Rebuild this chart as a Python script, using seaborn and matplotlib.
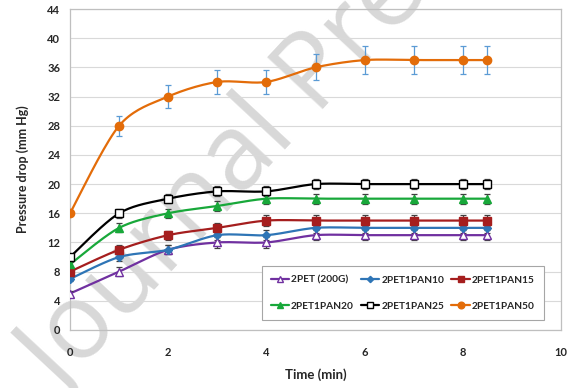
import numpy as np
import pandas as pd
import matplotlib
matplotlib.use("Agg")
import matplotlib.pyplot as plt
from matplotlib.lines import Line2D
import seaborn as sns

# ---- data ----
time_min = [0, 1, 2, 3, 4, 5, 6, 7, 8, 8.5]
series_names = ["2PET (200G)", "2PET1PAN10", "2PET1PAN15",
                "2PET1PAN20", "2PET1PAN25", "2PET1PAN50"]
pet_200g = [5, 8, 11, 12, 12, 13, 13, 13, 13, 13]
pan10 = [7, 10, 11, 13, 13, 14, 14, 14, 14, 14]
pan15 = [8, 11, 13, 14, 15, 15, 15, 15, 15, 15]
pan20 = [9, 14, 16, 17, 18, 18, 18, 18, 18, 18]
pan25 = [10, 16, 18, 19, 19, 20, 20, 20, 20, 20]
pan50 = [16, 28, 32, 34, 34, 36, 37, 37, 37, 37]
err_small = [0.3, 0.6, 0.6, 0.7, 0.7, 0.7, 0.7, 0.7, 0.7, 0.7]
err_pan50 = [0.3, 1.4, 1.6, 1.7, 1.7, 1.8, 1.9, 1.9, 1.9, 1.9]
x_ticks = [0, 2, 4, 6, 8, 10]
y_ticks = [0, 4, 8, 12, 16, 20, 24, 28, 32, 36, 40, 44]

values = [pet_200g, pan10, pan15, pan20, pan25, pan50]
errors = [err_small, err_small, err_small, err_small, err_small, err_pan50]

colors = ["#7030A0", "#2E75B6", "#A51E1E", "#18A83A", "#000000", "#E36C09"]
markers = ["^", "D", "s", "^", "s", "o"]
msizes = [6, 4, 6, 5.5, 6, 6]
mfaces = ["white", "#2E75B6", "#A51E1E", "#18A83A", "white", "#E36C09"]
ecolors = ["#404040"] * 5 + ["#5B9BD5"]

sns.set_theme(style="white")
plt.rcParams["font.family"] = ["Lato", "DejaVu Sans"]
plt.rcParams["font.weight"] = "bold"


def catmull_rom(x, y, n=20):
    x = np.asarray(x, float)
    y = np.asarray(y, float)
    px = np.concatenate([[x[0]], x, [x[-1]]])
    py = np.concatenate([[y[0]], y, [y[-1]]])
    xs, ys = [], []
    t = np.linspace(0, 1, n, endpoint=False)
    for i in range(1, len(px) - 2):
        p0, p1, p2, p3 = (np.array([px[j], py[j]]) for j in (i - 1, i, i + 1, i + 2))
        m1 = (p2 - p0) / 2 * 0.9
        m2 = (p3 - p1) / 2 * 0.9
        h00 = 2 * t**3 - 3 * t**2 + 1
        h10 = t**3 - 2 * t**2 + t
        h01 = -2 * t**3 + 3 * t**2
        h11 = t**3 - t**2
        pts = np.outer(h00, p1) + np.outer(h10, m1) + np.outer(h01, p2) + np.outer(h11, m2)
        xs.extend(pts[:, 0]); ys.extend(pts[:, 1])
    xs.append(x[-1]); ys.append(y[-1])
    return np.array(xs), np.array(ys)


fig = plt.figure(figsize=(5.76, 3.88), dpi=100)
ax = fig.add_axes([70 / 576, 1 - 330 / 388, 491 / 576, 321 / 388])
ax.patch.set_alpha(0)

# watermark (drawn beneath the axes)
fig.text(62 / 576, 1 - 398 / 388, "Journal Pre-proof", fontsize=76, color="#d8d8d8",
         rotation=47, ha="left", va="baseline", rotation_mode="anchor",
         fontweight="normal", family=["Open Sans", "DejaVu Sans"], zorder=-5)

for name, vals, err, c, m, ms, mf, ec in zip(series_names, values, errors, colors,
                                             markers, msizes, mfaces, ecolors):
    sx, sy = catmull_rom(time_min, vals)
    smooth = pd.DataFrame({"t": sx, "p": sy})
    sns.lineplot(data=smooth, x="t", y="p", ax=ax, color=c, lw=1.6,
                 sort=False, estimator=None, zorder=3)
    ax.errorbar(time_min, vals, yerr=err, fmt="none", ecolor=ec, elinewidth=0.9,
                capsize=2.5, capthick=0.9, zorder=4)
    pts = pd.DataFrame({"t": time_min, "p": vals})
    ax.plot(pts["t"], pts["p"], ls="none", marker=m, ms=ms, mfc=mf, mec=c,
            mew=1.0, zorder=5)

ax.set_xlim(0, 10)
ax.set_ylim(0, 44)
ax.set_xticks(x_ticks)
ax.set_yticks(y_ticks)
ax.set_xticklabels([str(v) for v in x_ticks], fontsize=8, fontweight="bold")
ax.set_yticklabels([str(v) for v in y_ticks], fontsize=8, fontweight="bold")
ax.tick_params(axis="x", length=0, pad=12)
ax.tick_params(axis="y", length=0, pad=7)
ax.yaxis.grid(True, color="#d9d9d9", lw=0.8)
ax.xaxis.grid(False)
for s in ax.spines.values():
    s.set_color("#bfbfbf")
    s.set_linewidth(0.9)
ax.set_xlabel("Time (min)", fontsize=9.5, fontweight="bold", labelpad=8)
ax.set_ylabel("Pressure drop (mm Hg)", fontsize=9, fontweight="bold", labelpad=13)

handles = [Line2D([0], [0], color=c, lw=1.6, marker=m, ms=ms * 0.8, mfc=mf, mec=c)
           for c, m, ms, mf in zip(colors, markers, msizes, mfaces)]
# reorder so that rows read across (matplotlib fills columns first)
order = [0, 3, 1, 4, 2, 5]
leg = ax.legend([handles[i] for i in order], [series_names[i] for i in order],
                ncol=3, loc="lower right", bbox_to_anchor=(0.975, 0.015),
                frameon=True, fancybox=False, handlelength=1.8,
                handletextpad=0.2, columnspacing=0.7, labelspacing=1.7,
                borderpad=0.9, prop={"weight": "bold", "size": 7.3})
leg.get_frame().set_edgecolor("#a6a6a6")
leg.get_frame().set_linewidth(0.8)
leg.get_frame().set_alpha(1)

fig.savefig("out.png", dpi=100)
